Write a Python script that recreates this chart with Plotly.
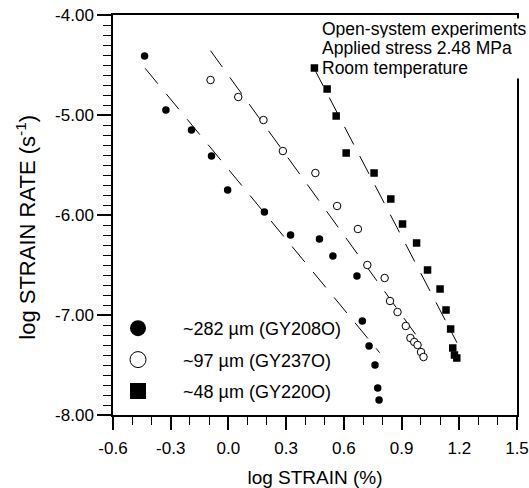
import plotly.graph_objects as go

# log STRAIN (%) / log STRAIN RATE (s^-1) for the three grain sizes
gy208o_strain = [-0.436, -0.325, -0.192, -0.088, -0.004, 0.187, 0.323, 0.473,
                 0.543, 0.668, 0.696, 0.731, 0.762, 0.776, 0.783]
gy208o_rate = [-4.41, -4.95, -5.15, -5.41, -5.75, -5.97, -6.20, -6.24,
               -6.41, -6.61, -7.06, -7.31, -7.50, -7.73, -7.85]

gy237o_strain = [-0.093, 0.051, 0.182, 0.283, 0.452, 0.565, 0.673, 0.722,
                 0.812, 0.840, 0.879, 0.922, 0.946, 0.966, 0.983, 1.001, 1.014]
gy237o_rate = [-4.65, -4.82, -5.05, -5.36, -5.58, -5.91, -6.14, -6.50,
               -6.63, -6.86, -6.97, -7.11, -7.23, -7.27, -7.30, -7.37, -7.42]

gy220o_strain = [0.447, 0.513, 0.560, 0.612, 0.757, 0.844, 0.905, 0.978,
                 1.035, 1.100, 1.131, 1.155, 1.166, 1.175, 1.187]
gy220o_rate = [-4.53, -4.74, -5.01, -5.38, -5.58, -5.84, -6.09, -6.28,
               -6.55, -6.74, -6.95, -7.14, -7.33, -7.40, -7.43]

# end points of the dashed linear fits
fit_208_x = [-0.433, 0.786]
fit_208_y = [-4.533, -7.377]
fit_237_x = [-0.093, 1.013]
fit_237_y = [-4.357, -7.300]
fit_220_x = [0.445, 1.188]
fit_220_y = [-4.533, -7.277]

# axis ticks
x_tickvals = [-0.6, -0.3, 0.0, 0.3, 0.6, 0.9, 1.2, 1.5]
x_ticktext = ["-0.6", "-0.3", "0.0", "0.3", "0.6", "0.9", "1.2", "1.5"]
y_tickvals = [-8, -7, -6, -5, -4]
y_ticktext = ["-8.00", "-7.00", "-6.00", "-5.00", "-4.00"]

legend_names = ["~282 µm (GY208O)", "~97 µm (GY237O)", "~48 µm (GY220O)"]
info_lines = ["Open-system experiments", "Applied stress 2.48 MPa", "Room temperature"]

FONT = "Liberation Sans, Arial, sans-serif"

fig = go.Figure()

# dashed fits
for fx, fy in [(fit_208_x, fit_208_y), (fit_237_x, fit_237_y), (fit_220_x, fit_220_y)]:
    fig.add_trace(go.Scatter(x=fx, y=fy, mode="lines", showlegend=False,
                             line=dict(color="black", width=1, dash="20px,13px"),
                             hoverinfo="skip"))

series = [
    (gy208o_strain, gy208o_rate, dict(symbol="circle", color="black", size=7.5)),
    (gy237o_strain, gy237o_rate, dict(symbol="circle", color="white", size=7.5,
                                      line=dict(color="black", width=1))),
    (gy220o_strain, gy220o_rate, dict(symbol="square", color="black", size=7.5)),
]
for (sx, sy, mk) in series:
    fig.add_trace(go.Scatter(x=sx, y=sy, mode="markers", marker=mk, showlegend=False))

# legend keys with larger symbols
legend_markers = [
    dict(symbol="circle", color="black", size=20),
    dict(symbol="circle", color="white", size=20, line=dict(color="black", width=1)),
    dict(symbol="square", color="black", size=20),
]
for i, (name, mk) in enumerate(zip(legend_names, legend_markers)):
    fig.add_trace(go.Scatter(x=[None], y=[None], mode="markers", marker=mk,
                             name=name, legendgroup=f"g{i}", showlegend=True))

axis_common = dict(
    showgrid=False, zeroline=False, showline=True, linecolor="black", linewidth=1.5,
    mirror=True, ticks="outside", tickcolor="black", tickwidth=1.5,
    tickfont=dict(family=FONT, size=17, color="black"),
)

fig.update_xaxes(
    range=[-0.6, 1.5], tickvals=x_tickvals, ticktext=x_ticktext, ticklen=13,
    ticklabelstandoff=4,
    minor=dict(tick0=-0.6, dtick=0.1, ticks="outside", ticklen=8, tickwidth=1.2,
               tickcolor="black"),
    title=dict(text="log STRAIN (%)", font=dict(family=FONT, size=19, color="black"),
               standoff=16),
    **axis_common,
)
fig.update_yaxes(
    range=[-8, -4], tickvals=y_tickvals, ticktext=y_ticktext, ticklen=14,
    minor=dict(tick0=-8, dtick=0.1, ticks="outside", ticklen=8, tickwidth=1.2,
               tickcolor="black"),
    **axis_common,
)

# y-axis title
fig.add_annotation(text="log STRAIN RATE (s<sup>-1</sup>)", xref="paper", yref="paper",
                   x=-0.216, y=0.47, xanchor="center", yanchor="middle",
                   textangle=-90, showarrow=False,
                   font=dict(family=FONT, size=22, color="black"))

# experiment conditions, one annotation per line
for txt, yp in zip(info_lines, [0.965, 0.9175, 0.8675]):
    fig.add_annotation(text=txt, xref="paper", yref="paper", x=0.515, y=yp,
                       xanchor="left", yanchor="middle", showarrow=False,
                       align="left", width=230, bgcolor="white", borderpad=0,
                       font=dict(family=FONT, size=17.5, color="black"))

fig.update_layout(
    width=529, height=488,
    margin=dict(l=113, r=12, t=15, b=73, autoexpand=False),
    paper_bgcolor="white", plot_bgcolor="white",
    font=dict(family=FONT, color="black"),
    showlegend=True,
    legend=dict(x=-0.0495, y=0.2625, xanchor="left", yanchor="top",
                bgcolor="rgba(0,0,0,0)", itemwidth=80, tracegroupgap=5,
                font=dict(family=FONT, size=18, color="black")),
)

fig.write_html("out.html")
